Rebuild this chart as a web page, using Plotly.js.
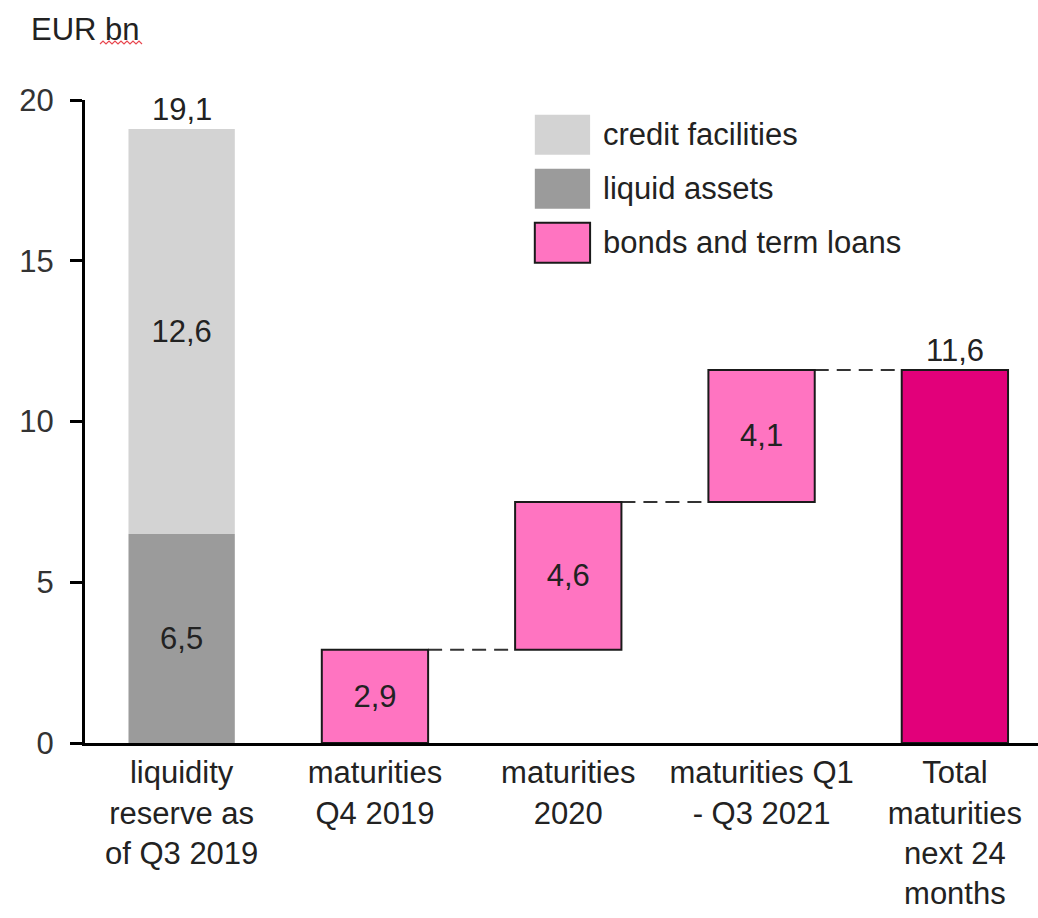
<!DOCTYPE html>
<html>
<head>
<meta charset="utf-8">
<script src="https://cdn.plot.ly/plotly-3.0.1.min.js"></script>
<style>html,body{margin:0;padding:0;background:#fff;}#chart{width:1038px;height:918px;}</style>
</head>
<body>
<div id="chart"></div>
<script>
// ---- data ----
const categories = [
  'liquidity<br>reserve as<br>of Q3 2019',
  'maturities<br>Q4 2019',
  'maturities<br>2020',
  'maturities Q1<br>- Q3 2021',
  'Total<br>maturities<br>next 24<br>months'
];
const seriesNames = ['credit facilities', 'liquid assets', 'bonds and term loans'];
const liquidAssets = [6.5];          // category 0
const creditFacilities = [12.6];     // category 0
const maturityCats = [1, 2, 3];
const maturities = [2.9, 4.6, 4.1];  // bonds and term loans
const totalMaturities = [11.6];      // category 4
const reserveTotal = [19.1];         // category 0
const yTicks = [0, 5, 10, 15, 20];
const yUnit = 'EUR bn';

// ---- styles ----
const FONT = 'Liberation Sans, Arial, sans-serif';
const FS = 31;
const TXT = '#222222';
const colCredit = '#d3d3d3';
const colLiquid = '#9b9b9b';
const colBond = '#ff74c1';
const colTotal = '#e2007a';
const BW = 0.55;

const fmt = v => v.toFixed(1).replace('.', ',');

// bases for the waterfall
const bases = [];
let cum = 0;
maturities.forEach(v => { bases.push(cum); cum += v; });
const levels = maturities.map((v, i) => bases[i] + v);

const traces = [
  {
    type: 'bar', name: seriesNames[1], x: [categories[0]], y: liquidAssets, base: [0],
    marker: {color: colLiquid, line: {width: 0}}, width: BW,
    text: liquidAssets.map(fmt), textposition: 'inside', insidetextanchor: 'middle',
    textfont: {family: FONT, size: FS, color: TXT}, constraintext: 'none',
    showlegend: false, hoverinfo: 'skip'
  },
  {
    type: 'bar', name: seriesNames[0], x: [categories[0]], y: creditFacilities, base: liquidAssets,
    marker: {color: colCredit, line: {width: 0}}, width: BW,
    text: creditFacilities.map(fmt), textposition: 'inside', insidetextanchor: 'middle',
    textfont: {family: FONT, size: FS, color: TXT}, constraintext: 'none',
    showlegend: false, hoverinfo: 'skip'
  },
  {
    type: 'bar', name: seriesNames[2], x: maturityCats.map(i => categories[i]), y: maturities, base: bases,
    marker: {color: colBond, line: {width: 2, color: '#1a1a1a'}}, width: BW,
    text: maturities.map(fmt), textposition: 'inside', insidetextanchor: 'middle',
    textfont: {family: FONT, size: FS, color: TXT}, constraintext: 'none',
    showlegend: false, hoverinfo: 'skip'
  },
  {
    type: 'bar', name: 'Total', x: [categories[4]], y: totalMaturities, base: [0],
    marker: {color: colTotal, line: {width: 2, color: '#1a1a1a'}}, width: BW,
    showlegend: false, hoverinfo: 'skip'
  }
];

// connectors
const shapes = [];
levels.forEach((lv, i) => {
  const ci = maturityCats[i];
  shapes.push({
    type: 'line', xref: 'x', yref: 'y',
    x0: ci + BW / 2, x1: ci + 1 - BW / 2, y0: lv, y1: lv,
    line: {color: '#333333', width: 2, dash: '14px,8px'}, layer: 'below'
  });
});

// custom legend
const legendItems = [
  {name: seriesNames[0], color: colCredit, border: 0},
  {name: seriesNames[1], color: colLiquid, border: 0},
  {name: seriesNames[2], color: colBond, border: 2}
];
const annotations = [];
const lgX0 = 0.472, lgX1 = 0.530, lgTop = 0.977, lgH = 0.062, lgStep = 0.084;
legendItems.forEach((it, i) => {
  const top = lgTop - i * lgStep;
  shapes.push({
    type: 'rect', xref: 'paper', yref: 'paper',
    x0: lgX0, x1: lgX1, y0: top - lgH, y1: top,
    fillcolor: it.color, line: {width: it.border, color: '#1a1a1a'}
  });
  annotations.push({
    xref: 'paper', yref: 'paper', x: 0.541, y: top - lgH / 2,
    xanchor: 'left', yanchor: 'middle', showarrow: false,
    text: it.name, font: {family: FONT, size: FS, color: TXT}
  });
});

// totals above bars
annotations.push({
  xref: 'x', yref: 'y', x: 0, y: reserveTotal[0], yanchor: 'bottom', showarrow: false,
  text: fmt(reserveTotal[0]), font: {family: FONT, size: FS, color: TXT}
});
annotations.push({
  xref: 'x', yref: 'y', x: 4, y: totalMaturities[0], yanchor: 'bottom', showarrow: false,
  text: fmt(totalMaturities[0]), font: {family: FONT, size: FS, color: TXT}
});
// unit label
annotations.push({
  xref: 'paper', yref: 'paper', x: -0.059, y: 1.11, xanchor: 'left', yanchor: 'middle',
  showarrow: false, text: yUnit, font: {family: FONT, size: FS, color: TXT}
});

// red spell-check squiggle under "bn" (pixel -> paper helper)
const px2x = p => (p - 85) / 953;
const py2y = p => (743 - p) / 643;
let sq = '';
for (let k = 0, xp = 100; xp <= 142; k++, xp += 3) {
  sq += (k === 0 ? 'M' : 'L') + px2x(xp) + ',' + py2y(k % 2 === 0 ? 44 : 41) + ' ';
}
shapes.push({type: 'path', xref: 'paper', yref: 'paper', path: sq.trim(),
  line: {color: '#e8474f', width: 1.2}});

const layout = {
  width: 1038, height: 918,
  margin: {l: 85, r: 0, t: 100, b: 175, pad: 0},
  paper_bgcolor: '#ffffff', plot_bgcolor: '#ffffff',
  barmode: 'overlay',
  showlegend: false,
  font: {family: FONT, size: FS, color: TXT},
  xaxis: {
    type: 'category', range: [-0.5, 4.43],
    showline: true, linecolor: '#000000', linewidth: 3,
    ticks: '', showgrid: false, zeroline: false,
    tickfont: {family: FONT, size: FS, color: TXT},
    fixedrange: true
  },
  yaxis: {
    range: [0, 20], tickvals: yTicks, ticktext: yTicks.map(String),
    showline: true, linecolor: '#000000', linewidth: 3,
    ticks: 'outside', ticklen: 12, tickwidth: 3, tickcolor: '#000000',
    ticklabelstandoff: 10,
    showgrid: false, zeroline: false,
    tickfont: {family: FONT, size: FS, color: '#333333'},
    fixedrange: true
  },
  shapes: shapes,
  annotations: annotations
};

Plotly.newPlot('chart', traces, layout, {displayModeBar: false, staticPlot: true});
</script>
</body>
</html>
